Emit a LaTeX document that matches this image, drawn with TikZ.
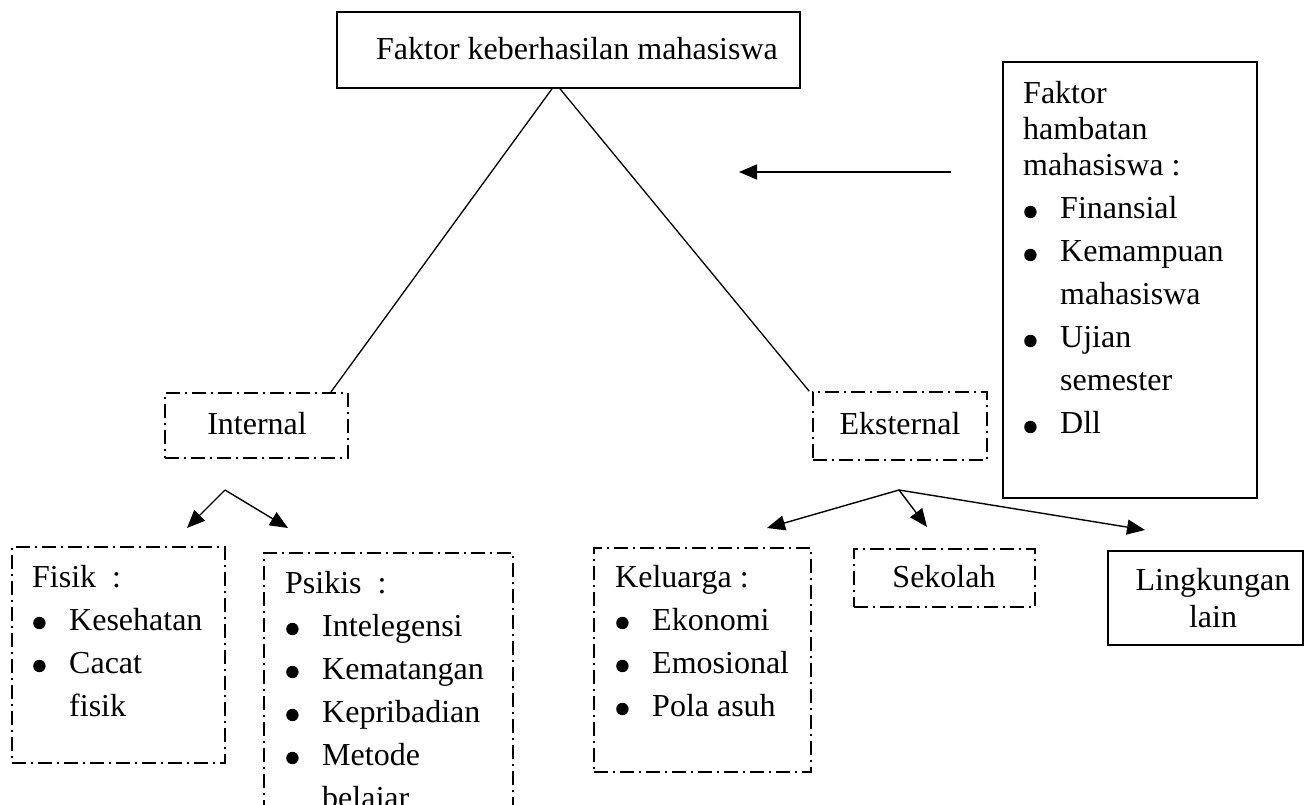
\documentclass[tikz,border=0pt]{standalone}
\usepackage{fontspec}
\setmainfont{Liberation Serif}
\usetikzlibrary{arrows.meta}
\newcommand\bigdot{\tikz[baseline=-7pt]\fill (0pt,0pt) circle[radius=6.2pt];}
\newcommand\itm[1]{\makebox[37pt][l]{\hspace*{1pt}\bigdot}#1}
\newcommand\cnt[1]{\hspace*{37pt}#1}
\begin{document}
\begin{tikzpicture}[x=1pt,y=-1pt,
  every node/.style={font=\fontsize{32}{43}\selectfont},
  solidbox/.style={draw, line width=1.6pt, inner sep=0pt},
  dashbox/.style={draw, line width=1.6pt, dash pattern=on 14pt off 5pt on 2pt off 5pt, inner sep=0pt},
  conn/.style={line width=1.3pt},
  arr/.style={line width=1.4pt, -{Triangle[length=18pt,width=15pt]}},
  txt/.style={anchor=base west, inner sep=0pt}
]
\useasboundingbox (0,0) rectangle (1309,805);
\clip (0,0) rectangle (1309,805);

% boxes
\node[solidbox, minimum width=463pt, minimum height=76pt] (top) at (568.5,50) {};
\node[solidbox, minimum width=254pt, minimum height=436pt] (hamb) at (1130,280) {};
\node[dashbox, minimum width=183pt, minimum height=65pt] (int) at (256.5,425.5) {};
\node[dashbox, minimum width=174pt, minimum height=68pt] (ext) at (900,426) {};
\node[dashbox, minimum width=213pt, minimum height=216pt] (fis) at (118.5,655) {};
\node[dashbox, minimum width=249pt, minimum height=347pt] (psi) at (388.5,726.5) {};
\node[dashbox, minimum width=217pt, minimum height=224pt] (kel) at (702.5,660) {};
\node[dashbox, minimum width=181pt, minimum height=58pt] (sek) at (944.5,578) {};
\node[solidbox, minimum width=195pt, minimum height=94pt] (lin) at (1205.5,598) {};

% box texts
\node (topt) at (577,49) {Faktor keberhasilan mahasiswa};
\node (intt) at (257,424) {Internal};
\node (extt) at (900,424) {Eksternal};
\node (sekt) at (944,577) {Sekolah};
\node[txt] (hambt) at (1023,104) {\parbox[t]{230pt}{Faktor\\[-7pt]hambatan\\[-7pt]mahasiswa :\\\itm{Finansial}\\\itm{Kemampuan}\\\cnt{mahasiswa}\\\itm{Ujian}\\\cnt{semester}\\\itm{Dll}}};
\node[txt] (fist) at (32,587) {\parbox[t]{190pt}{Fisik\ \ :\\\itm{Kesehatan}\\\itm{Cacat}\\\cnt{fisik}}};
\node[txt] (psit) at (285,593) {\parbox[t]{225pt}{Psikis\ \ :\\\itm{Intelegensi}\\\itm{Kematangan}\\\itm{Kepribadian}\\\itm{Metode}\\\cnt{belajar}}};
\node[txt] (kelt) at (615,587) {\parbox[t]{195pt}{Keluarga :\\\itm{Ekonomi}\\\itm{Emosional}\\\itm{Pola asuh}}};
\node[anchor=base, inner sep=0pt] (lint) at (1213,590) {\parbox[t]{190pt}{\centering Lingkungan\\[-6pt]lain}};

% connectors
\draw[conn] ([xshift=-16.5pt]top.south) -- ([xshift=-18pt]int.north east);
\draw[conn] ([xshift=-8.5pt]top.south) -- ([xshift=-3pt]ext.north west);

\coordinate (hs) at (951,172);
\coordinate (ht) at (739,172);
\draw[arr] (hs) -- (ht);

\coordinate (ia) at (225,490);
\coordinate (ia1) at (187,528);
\coordinate (ia2) at (288,528);
\draw[arr] (ia) -- (ia1);
\draw[arr] (ia) -- (ia2);

\coordinate (ea) at (899,490);
\coordinate (ea1) at (767,528);
\coordinate (ea2) at (927,527);
\coordinate (ea3) at (1145,530);
\draw[arr] (ea) -- (ea1);
\draw[arr] (ea) -- (ea2);
\draw[arr] (ea) -- (ea3);
\end{tikzpicture}
\end{document}
